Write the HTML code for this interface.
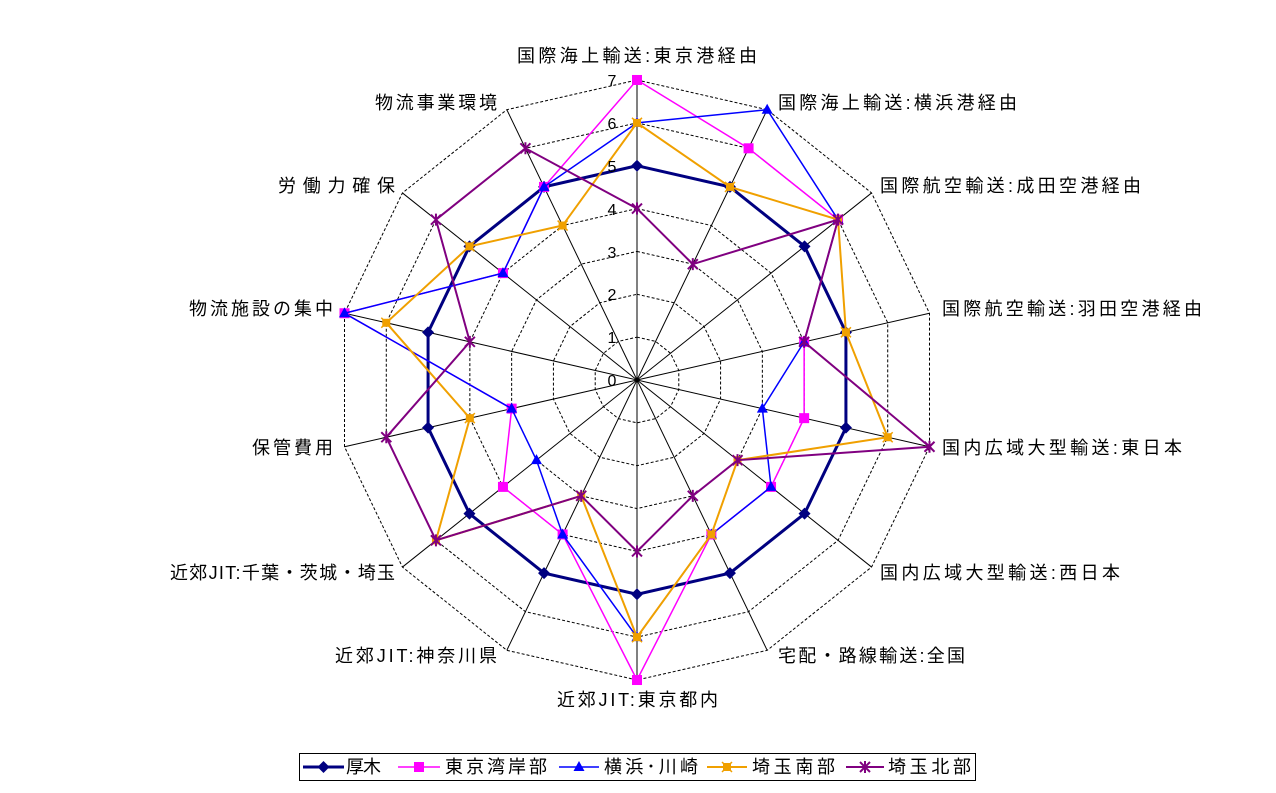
<!DOCTYPE html>
<html><head><meta charset="utf-8">
<style>
html,body{margin:0;padding:0;background:#fff;}
svg{display:block;font-family:"Liberation Sans","Noto Sans CJK JP",sans-serif;}
</style></head>
<body>
<svg id="s" width="1276" height="793" viewBox="0 0 1276 793" xmlns="http://www.w3.org/2000/svg">
<g id="grid"></g>
<g id="series"></g>
<g font-size="16" fill="#000">
<text x="612" y="86" text-anchor="middle">7</text>
<text x="612" y="129" text-anchor="middle">6</text>
<text x="612" y="172" text-anchor="middle">5</text>
<text x="612" y="215" text-anchor="middle">4</text>
<text x="612" y="258" text-anchor="middle">3</text>
<text x="612" y="300" text-anchor="middle">2</text>
<text x="612" y="343" text-anchor="middle">1</text>
<text x="612" y="386" text-anchor="middle">0</text>
</g>
<g font-size="18" fill="#000" dominant-baseline="middle" lengthAdjust="spacing">
<text x="517" y="57" textLength="240" lengthAdjust="spacing">国際海上輸送:東京港経由</text>
<text x="778" y="104" textLength="239" lengthAdjust="spacing">国際海上輸送:横浜港経由</text>
<text x="880" y="187" textLength="261" lengthAdjust="spacing">国際航空輸送:成田空港経由</text>
<text x="942" y="310" textLength="260" lengthAdjust="spacing">国際航空輸送:羽田空港経由</text>
<text x="942" y="449" textLength="240" lengthAdjust="spacing">国内広域大型輸送:東日本</text>
<text x="880" y="574" textLength="240" lengthAdjust="spacing">国内広域大型輸送:西日本</text>
<text x="778" y="657" textLength="187" lengthAdjust="spacing">宅配・路線輸送:全国</text>
<text x="557" y="701" textLength="161" lengthAdjust="spacing">近郊JIT:東京都内</text>
<text x="335" y="657" textLength="162" lengthAdjust="spacing">近郊JIT:神奈川県</text>
<text x="170" y="574" textLength="225" lengthAdjust="spacing">近郊JIT:千葉・茨城・埼玉</text>
<text x="252" y="449" textLength="81" lengthAdjust="spacing">保管費用</text>
<text x="189" y="310" textLength="144" lengthAdjust="spacing">物流施設の集中</text>
<text x="278" y="187" textLength="117" lengthAdjust="spacing">労働力確保</text>
<text x="375" y="104" textLength="122" lengthAdjust="spacing">物流事業環境</text>
</g>
<rect x="299.5" y="753.5" width="676" height="27" fill="none" stroke="#000" stroke-width="1"/>
<g id="legend"></g>
<g font-size="18" fill="#000" dominant-baseline="middle">
<text x="346" y="768" textLength="35" lengthAdjust="spacing">厚木</text>
<text x="445" y="768" textLength="102" lengthAdjust="spacing">東京湾岸部</text>
<text x="604" y="768" textLength="94" lengthAdjust="spacing">横浜･川崎</text>
<text x="752" y="768" textLength="83" lengthAdjust="spacing">埼玉南部</text>
<text x="888" y="768" textLength="83" lengthAdjust="spacing">埼玉北部</text>
</g>
</svg>
<script>
var NS="http://www.w3.org/2000/svg",cx=637,cy=380,u=42.86,N=14;
function P(i,v){var a=i*2*Math.PI/N;return [cx+v*u*Math.sin(a),cy-v*u*Math.cos(a)];}
function el(t,a,p){var e=document.createElementNS(NS,t);for(var k in a)e.setAttribute(k,a[k]);p.appendChild(e);return e;}
var g=document.getElementById("grid");
for(var r=1;r<=7;r++){var pts=[];for(var i=0;i<N;i++)pts.push(P(i,r).join(","));
el("polygon",{points:pts.join(" "),fill:"none",stroke:"#000","stroke-width":1,"stroke-dasharray":"3,2"},g);}
for(var i=0;i<N;i++){var p=P(i,7);el("line",{x1:cx,y1:cy,x2:p[0],y2:p[1],stroke:"#000","stroke-width":1},g);}
var S=[
{c:"#000080",w:3,m:"d",v:[5,5,5,5,5,5,5,5,5,5,5,5,5,5]},
{c:"#FF00FF",w:1.5,m:"s",v:[7,6,6,4,4,4,4,7,4,4,3,7,4,5]},
{c:"#0000FF",w:1.5,m:"t",v:[6,7,6,4,3,4,4,6,4,3,3,7,4,5]},
{c:"#F0A000",w:2,m:"x",v:[6,5,6,5,6,3,4,6,3,6,4,6,5,4]},
{c:"#800080",w:2,m:"a",v:[4,3,6,4,7,3,3,4,3,6,6,4,6,6]}];
var sg=document.getElementById("series");
function mk(m,x,y,c,par){
 if(m=="d")el("polygon",{points:[x,y-6,x+6,y,x,y+6,x-6,y].join(","),fill:c},par);
 else if(m=="s")el("rect",{x:x-5,y:y-5,width:10,height:10,fill:c},par);
 else if(m=="t")el("polygon",{points:[x,y-6,x+5.5,y+4,x-5.5,y+4].join(","),fill:c},par);
 else if(m=="x"){el("rect",{x:x-4,y:y-4,width:8,height:8,fill:c},par);el("path",{d:"M"+(x-5)+" "+(y-5)+"L"+(x+5)+" "+(y+5)+"M"+(x+5)+" "+(y-5)+"L"+(x-5)+" "+(y+5),stroke:c,"stroke-width":1.5},par);}
 else {el("path",{d:"M"+(x-5)+" "+(y-5)+"L"+(x+5)+" "+(y+5)+"M"+(x+5)+" "+(y-5)+"L"+(x-5)+" "+(y+5)+"M"+x+" "+(y-6)+"L"+x+" "+(y+6),stroke:c,"stroke-width":2},par);}
}
S.forEach(function(s){var pts=s.v.map(function(v,i){return P(i,v);});
 el("polygon",{points:pts.map(function(p){return p.join(",")}).join(" "),fill:"none",stroke:s.c,"stroke-width":s.w},sg);
 pts.forEach(function(p){mk(s.m,p[0],p[1],s.c,sg);});});
var lg=document.getElementById("legend"),L=[[303,344],[398,440],[559,599],[707,747],[846,884]];
S.forEach(function(s,i){var a=L[i][0],b=L[i][1];el("line",{x1:a,y1:767,x2:b,y2:767,stroke:s.c,"stroke-width":s.w},lg);mk(s.m,(a+b)/2,767,s.c,lg);});
</script>
</body></html>
